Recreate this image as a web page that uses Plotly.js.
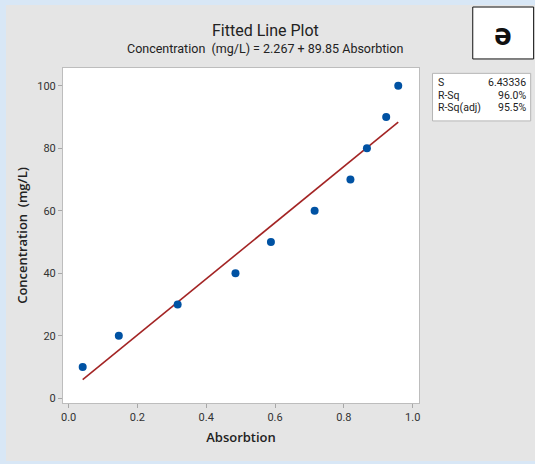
<!DOCTYPE html>
<html>
<head>
<meta charset="utf-8">
<script src="https://cdn.plot.ly/plotly-3.0.1.min.js"></script>
<style>
  html, body { margin: 0; padding: 0; background: #d8e7f6; width: 535px; height: 464px; overflow: hidden; }
  #plot { position: absolute; left: 6px; top: 5px; width: 529px; height: 456px; }
</style>
</head>
<body>
<div id="plot"></div>
<script>
// Data
const absorbtion = [0.041, 0.146, 0.317, 0.485, 0.588, 0.715, 0.819, 0.867, 0.923, 0.958];
const concentration = [10, 20, 30, 40, 50, 60, 70, 80, 90, 100];
const intercept = 2.267;
const slope = 89.85;
const statLabels = ["S", "R-Sq", "R-Sq(adj)"];
const statValues = ["6.43336", "96.0%", "95.5%"];
const xTickVals = [0, 0.2, 0.4, 0.6, 0.8, 1.0];
const xTickText = ["0.0", "0.2", "0.4", "0.6", "0.8", "1.0"];
const yTickVals = [0, 20, 40, 60, 80, 100];
const panelLabel = "ə";

const xmin = Math.min(...absorbtion), xmax = Math.max(...absorbtion);
const fitX = [xmin, xmax];
const fitY = fitX.map(v => intercept + slope * v);

const FONT = "Segoe UI, Roboto, sans-serif";
const SEMI = "Open Sans, sans-serif";

const traces = [
  {
    x: fitX, y: fitY, type: "scatter", mode: "lines",
    line: { color: "#a32424", width: 1.6 }, hoverinfo: "skip"
  },
  {
    x: absorbtion, y: concentration, type: "scatter", mode: "markers",
    marker: { color: "#0052a3", size: 8, symbol: "circle" }
  }
];

const statRows = [0.956, 0.919, 0.882];
const annotations = [
  { text: "Fitted Line Plot", xref: "paper", yref: "paper", x: 0.5686, y: 1.113,
    xanchor: "center", yanchor: "middle", showarrow: false,
    font: { family: FONT, size: 16, color: "#222" } },
  { text: "Concentration\u00a0\u00a0(mg/L) = 2.267 + 89.85 Absorbtion", xref: "paper", yref: "paper",
    x: 0.5686, y: 1.057, xanchor: "center", yanchor: "middle", showarrow: false,
    font: { family: FONT, size: 12.5, color: "#222" } },
  { text: "<b>" + panelLabel + "</b>", xref: "paper", yref: "paper", x: 1.2367, y: 1.104,
    xanchor: "center", yanchor: "middle", showarrow: false,
    font: { family: "Noto Sans, sans-serif", size: 30, color: "#111" } }
];
statLabels.forEach((s, i) => {
  annotations.push({ text: s, xref: "paper", yref: "paper", x: 1.047, y: statRows[i],
    xanchor: "left", yanchor: "middle", showarrow: false,
    font: { family: FONT, size: 10.5, color: "#222" } });
  annotations.push({ text: statValues[i], xref: "paper", yref: "paper", x: 1.305, y: statRows[i],
    xanchor: "right", yanchor: "middle", showarrow: false,
    font: { family: FONT, size: 10.5, color: "#222" } });
});

const layout = {
  width: 529, height: 456,
  margin: { l: 57, r: 116, t: 63, b: 58 },
  paper_bgcolor: "#e5e5e5",
  plot_bgcolor: "#ffffff",
  showlegend: false,
  xaxis: {
    range: [-0.0162, 1.0183], tickvals: xTickVals, ticktext: xTickText,
    ticks: "outside", ticklen: 4, tickcolor: "#a8a8a8",
    showline: true, linecolor: "#bdbdbd", linewidth: 1, mirror: true,
    showgrid: false, zeroline: false,
    tickfont: { family: FONT, size: 11, color: "#333" },
    title: { text: "Absorbtion", standoff: 9, font: { family: SEMI, size: 13, color: "#222", weight: 600 } }
  },
  yaxis: {
    range: [-1.54, 105.7], tickvals: yTickVals,
    ticks: "outside", ticklen: 4, tickcolor: "#a8a8a8",
    showline: true, linecolor: "#bdbdbd", linewidth: 1, mirror: true,
    showgrid: false, zeroline: false,
    tickfont: { family: FONT, size: 11, color: "#333" },
    title: { text: "Concentration\u00a0\u00a0(mg/L)", standoff: 6, font: { family: SEMI, size: 13, color: "#222", weight: 600 } }
  },
  shapes: [
    { type: "rect", xref: "paper", yref: "paper", x0: 1.038, x1: 1.3137, y0: 0.842, y1: 0.984,
      fillcolor: "#ffffff", line: { color: "#b5b5b5", width: 1 }, layer: "below" },
    { type: "rect", xref: "paper", yref: "paper", x0: 1.151, x1: 1.322, y0: 1.027, y1: 1.182,
      fillcolor: "#ffffff", line: { color: "#111111", width: 1 }, layer: "below" }
  ],
  annotations: annotations
};

Plotly.newPlot("plot", traces, layout, { displayModeBar: false, staticPlot: true });
</script>
</body>
</html>
